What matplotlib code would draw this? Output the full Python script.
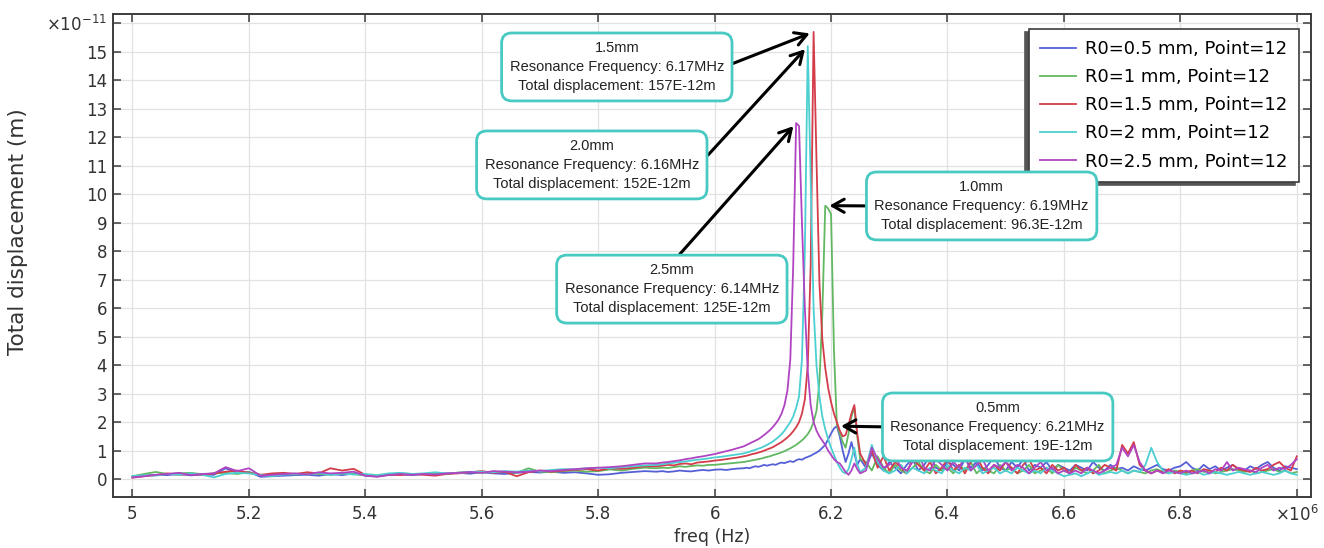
import numpy as np
import matplotlib
matplotlib.use("Agg")
import matplotlib.pyplot as plt
from matplotlib.ticker import FixedLocator, FixedFormatter

plt.rcParams['font.family'] = ['DejaVu Sans']
plt.rcParams['mathtext.fontset'] = 'dejavusans'

# ---------------- data (freq in MHz, displacement in 1e-11 m) ----------------
freq_coarse = np.round(np.arange(5.00, 5.881, 0.02), 3)   # 45
freq_mid = np.round(np.arange(5.90, 6.041, 0.01), 3)      # 15
freq_peak = np.round(np.arange(6.05, 6.2501, 0.005), 3)   # 41
freq_tail = np.round(np.arange(6.26, 7.001, 0.01), 3)     # 75
freq = np.concatenate([freq_coarse, freq_mid, freq_peak, freq_tail])

disp_r05 = [
    0.08, 0.12, 0.15, 0.14, 0.18, 0.13, 0.16, 0.15, 0.38, 0.22,
    0.25, 0.08, 0.10, 0.12, 0.14, 0.15, 0.12, 0.18, 0.14, 0.20,
    0.12, 0.10, 0.15, 0.17, 0.14, 0.18, 0.16, 0.20, 0.22, 0.19,
    0.24, 0.20, 0.18, 0.22, 0.25, 0.23, 0.26, 0.22, 0.24, 0.20,
    0.15, 0.17, 0.22, 0.25, 0.28,
    0.26, 0.28, 0.25, 0.27, 0.30, 0.28, 0.27, 0.30, 0.32, 0.30, 0.33, 0.34, 0.32, 0.35, 0.37,
    0.38, 0.40, 0.38, 0.42, 0.45, 0.43, 0.46, 0.50, 0.47, 0.50,
    0.52, 0.50, 0.55, 0.58, 0.56, 0.60, 0.63, 0.60, 0.66, 0.70,
    0.68, 0.74, 0.78, 0.82, 0.88, 0.93, 1.00, 1.10, 1.20, 1.40,
    1.60, 1.78, 1.86, 1.50, 1.00, 0.60, 0.90, 1.30, 0.90, 0.50,
    0.70,
    0.4, 0.9, 0.5, 0.3, 0.6,
    0.4, 0.2, 0.5, 0.7, 0.3, 0.5, 0.8, 0.4, 0.3, 0.6,
    0.5, 0.3, 0.7, 0.4, 0.6, 0.3, 0.5, 0.8, 0.4, 0.3,
    0.6, 0.4, 0.7, 0.3, 0.5, 0.4, 0.6, 0.3, 0.5, 0.4,
    0.3, 0.5, 0.4, 0.3, 0.6, 0.4, 0.3, 0.5, 0.35, 0.4,
    0.3, 0.45, 0.35, 0.3, 0.4, 0.5, 0.35, 0.3, 0.4, 0.45,
    0.6, 0.4, 0.3, 0.5, 0.35, 0.45, 0.3, 0.4, 0.5, 0.35,
    0.3, 0.45, 0.35, 0.5, 0.6, 0.4, 0.3, 0.45, 0.4, 0.35,
]

disp_r10 = [
    0.10, 0.18, 0.25, 0.18, 0.20, 0.22, 0.17, 0.20, 0.22, 0.18,
    0.24, 0.15, 0.13, 0.18, 0.16, 0.22, 0.18, 0.15, 0.20, 0.17,
    0.14, 0.12, 0.16, 0.20, 0.18, 0.17, 0.20, 0.18, 0.23, 0.25,
    0.22, 0.26, 0.24, 0.22, 0.38, 0.26, 0.24, 0.28, 0.30, 0.26,
    0.28, 0.34, 0.30, 0.36, 0.40,
    0.38, 0.40, 0.39, 0.42, 0.45, 0.43, 0.46, 0.48, 0.47, 0.50, 0.50, 0.52, 0.54, 0.56, 0.58,
    0.60, 0.62, 0.64, 0.66, 0.68, 0.70, 0.72, 0.75, 0.78, 0.80,
    0.84, 0.87, 0.90, 0.94, 0.98, 1.03, 1.08, 1.14, 1.20, 1.28,
    1.36, 1.46, 1.58, 1.75, 2.00, 2.40, 3.40, 5.80, 9.60, 9.50,
    9.30, 4.50, 1.90, 1.60, 1.30, 1.10, 1.60, 2.20, 2.50, 1.50,
    0.70,
    0.6, 0.3, 0.8, 0.4, 0.2,
    0.5, 0.3, 0.2, 0.4, 0.6, 0.3, 0.2, 0.5, 0.3, 0.4,
    0.2, 0.5, 0.3, 0.6, 0.2, 0.4, 0.3, 0.2, 0.5, 0.3,
    0.4, 0.2, 0.3, 0.5, 0.2, 0.3, 0.4, 0.2, 0.5, 0.3,
    0.2, 0.4, 0.3, 0.2, 0.3, 0.5, 0.2, 0.3, 0.4, 0.3,
    0.2, 0.3, 0.25, 0.2, 0.3, 0.35, 0.25, 0.2, 0.3, 0.25,
    0.2, 0.3, 0.35, 0.25, 0.3, 0.2, 0.25, 0.3, 0.35, 0.3,
    0.25, 0.3, 0.2, 0.25, 0.3, 0.35, 0.25, 0.3, 0.2, 0.25,
]

disp_r15 = [
    0.05, 0.10, 0.14, 0.20, 0.15, 0.18, 0.14, 0.20, 0.26, 0.30,
    0.22, 0.15, 0.20, 0.22, 0.18, 0.24, 0.20, 0.38, 0.30, 0.36,
    0.15, 0.10, 0.16, 0.14, 0.18, 0.15, 0.12, 0.18, 0.20, 0.24,
    0.28, 0.22, 0.25, 0.10, 0.24, 0.30, 0.26, 0.30, 0.32, 0.35,
    0.30, 0.38, 0.36, 0.40, 0.45,
    0.45, 0.47, 0.50, 0.48, 0.53, 0.55, 0.52, 0.58, 0.60, 0.62, 0.65, 0.67, 0.70, 0.73, 0.76,
    0.80, 0.82, 0.85, 0.88, 0.90, 0.93, 0.96, 1.00, 1.04, 1.08,
    1.12, 1.18, 1.24, 1.30, 1.38, 1.46, 1.56, 1.68, 1.82, 2.00,
    2.30, 2.80, 4.00, 7.50, 15.70, 11.20, 6.90, 4.90, 3.90, 3.20,
    2.70, 2.30, 2.00, 1.70, 1.50, 1.55, 1.90, 2.30, 2.60, 1.60,
    0.90,
    0.5, 1.0, 0.4, 0.8, 0.3,
    0.6, 0.4, 0.2, 0.7, 0.5, 0.3, 0.6, 0.2, 0.4, 0.7,
    0.3, 0.5, 0.2, 0.6, 0.8, 0.4, 0.2, 0.5, 0.3, 0.6,
    0.4, 0.2, 0.5, 0.7, 0.3, 0.4, 0.2, 0.5, 0.3, 0.4,
    0.2, 0.5, 0.3, 0.4, 0.2, 0.3, 0.5, 0.4, 0.3, 1.2,
    0.9, 1.3, 0.5, 0.3, 0.2, 0.3, 0.25, 0.35, 0.2, 0.3,
    0.25, 0.3, 0.2, 0.35, 0.3, 0.25, 0.4, 0.3, 0.5, 0.35,
    0.3, 0.25, 0.4, 0.3, 0.35, 0.5, 0.6, 0.4, 0.3, 0.8,
]

disp_r20 = [
    0.10, 0.14, 0.12, 0.18, 0.15, 0.20, 0.15, 0.06, 0.18, 0.22,
    0.20, 0.14, 0.10, 0.16, 0.18, 0.15, 0.22, 0.14, 0.20, 0.16,
    0.18, 0.14, 0.20, 0.22, 0.18, 0.20, 0.24, 0.20, 0.22, 0.25,
    0.26, 0.24, 0.28, 0.26, 0.30, 0.28, 0.32, 0.35, 0.34, 0.38,
    0.40, 0.38, 0.42, 0.45, 0.48,
    0.50, 0.52, 0.55, 0.57, 0.60, 0.62, 0.65, 0.68, 0.70, 0.73, 0.76, 0.78, 0.81, 0.84, 0.87,
    0.90, 0.93, 0.96, 1.00, 1.03, 1.07, 1.10, 1.15, 1.20, 1.26,
    1.32, 1.40, 1.48, 1.58, 1.70, 1.85, 2.00, 2.20, 2.50, 2.90,
    4.20, 8.00, 15.20, 10.50, 6.00, 4.00, 2.90, 2.20, 1.75, 1.40,
    1.10, 0.85, 0.60, 0.40, 0.25, 0.20, 0.35, 0.70, 1.10, 0.50,
    0.25,
    0.4, 1.2, 0.6, 0.3, 0.2,
    0.3, 0.5, 0.2, 0.4, 0.3, 0.2, 0.4, 0.3, 0.2, 0.5,
    0.3, 0.2, 0.4, 0.3, 0.5, 0.2, 0.3, 0.4, 0.2, 0.3,
    0.2, 0.4, 0.3, 0.2, 0.3, 0.2, 0.4, 0.3, 0.2, 0.1,
    0.15, 0.2, 0.1, 0.2, 0.3, 0.15, 0.2, 0.25, 0.2, 0.3,
    0.2, 0.3, 0.25, 0.5, 1.1, 0.6, 0.3, 0.2, 0.25, 0.2,
    0.15, 0.2, 0.25, 0.15, 0.2, 0.25, 0.2, 0.15, 0.2, 0.25,
    0.2, 0.15, 0.2, 0.25, 0.2, 0.15, 0.2, 0.3, 0.2, 0.15,
]

disp_r25 = [
    0.06, 0.10, 0.15, 0.18, 0.22, 0.14, 0.18, 0.20, 0.42, 0.28,
    0.38, 0.12, 0.15, 0.18, 0.20, 0.16, 0.24, 0.20, 0.22, 0.26,
    0.12, 0.08, 0.14, 0.18, 0.15, 0.18, 0.16, 0.20, 0.22, 0.25,
    0.22, 0.28, 0.26, 0.24, 0.26, 0.30, 0.28, 0.32, 0.35, 0.38,
    0.40, 0.42, 0.45, 0.50, 0.55,
    0.55, 0.58, 0.60, 0.63, 0.66, 0.70, 0.73, 0.77, 0.80, 0.84, 0.88, 0.93, 0.98, 1.03, 1.09,
    1.15, 1.20, 1.25, 1.30, 1.35, 1.40, 1.47, 1.55, 1.63, 1.72,
    1.83, 1.95, 2.10, 2.30, 2.60, 3.10, 4.20, 7.50, 12.50, 12.40,
    9.00, 6.00, 3.80, 2.60, 2.00, 1.70, 1.50, 1.35, 1.20, 1.00,
    0.85, 0.70, 0.60, 0.55, 0.40, 0.25, 0.15, 0.30, 0.55, 0.35,
    0.20,
    0.3, 1.1, 0.7, 0.4, 0.5,
    0.8, 0.4, 0.3, 0.6, 0.9, 0.4, 0.3, 0.7, 0.5, 0.3,
    0.6, 0.4, 0.8, 0.3, 0.5, 0.7, 0.3, 0.5, 0.4, 0.6,
    0.3, 0.5, 0.4, 0.2, 0.4, 0.6, 0.3, 0.4, 0.2, 0.3,
    0.2, 0.3, 0.2, 0.4, 0.3, 0.2, 0.3, 0.4, 0.5, 1.1,
    0.8, 1.2, 0.6, 0.3, 0.2, 0.3, 0.2, 0.3, 0.25, 0.2,
    0.3, 0.2, 0.25, 0.3, 0.2, 0.35, 0.3, 0.6, 0.3, 0.4,
    0.35, 0.3, 0.25, 0.4, 0.5, 0.3, 0.4, 0.35, 0.5, 0.7,
]

series = [disp_r05, disp_r10, disp_r15, disp_r20, disp_r25]
labels = ['R0=0.5 mm, Point=12', 'R0=1 mm, Point=12', 'R0=1.5 mm, Point=12',
          'R0=2 mm, Point=12', 'R0=2.5 mm, Point=12']
colors = ['#5560d6', '#62b862', '#d43c4a', '#4ccfd0', '#b044c2']

x_ticks = [5.0, 5.2, 5.4, 5.6, 5.8, 6.0, 6.2, 6.4, 6.6, 6.8, 7.0]
x_ticklabels = ['5', '5.2', '5.4', '5.6', '5.8', '6', '6.2', '6.4', '6.6', '6.8', r'$\times10^{6}$']
y_ticks = list(range(0, 17))
y_ticklabels = [str(v) for v in range(0, 16)] + [r'$\times10^{-11}$']

# annotation info: (series index, text, box centre (MHz, 1e-11 m), arrow start on box)
annotations = [
    (2, '1.5mm\nResonance Frequency: 6.17MHz\nTotal displacement: 157E-12m', (5.832, 14.47), (1.0, 0.5)),
    (3, '2.0mm\nResonance Frequency: 6.16MHz\nTotal displacement: 152E-12m', (5.789, 11.03), (1.0, 0.5)),
    (4, '2.5mm\nResonance Frequency: 6.14MHz\nTotal displacement: 125E-12m', (5.9265, 6.67), (0.5, 1.0)),
    (1, '1.0mm\nResonance Frequency: 6.19MHz\nTotal displacement: 96.3E-12m', (6.4587, 9.59), (0.0, 0.5)),
    (0, '0.5mm\nResonance Frequency: 6.21MHz\nTotal displacement: 19E-12m', (6.4862, 1.83), (0.0, 0.5)),
]

# ---------------- figure ----------------
fig = plt.figure(figsize=(13.24, 5.48), dpi=100)
ax = fig.add_axes([0.0851, 0.093, 0.9049, 0.8815])

for ys, lab, col in zip(series, labels, colors):
    ax.plot(freq, ys, color=col, lw=1.3, label=lab)

ax.set_xlim(4.966, 7.024)
ax.set_ylim(-0.63, 16.33)

ax.xaxis.set_major_locator(FixedLocator(x_ticks))
ax.xaxis.set_major_formatter(FixedFormatter(x_ticklabels))
ax.yaxis.set_major_locator(FixedLocator(y_ticks))
ax.yaxis.set_major_formatter(FixedFormatter(y_ticklabels))

ax.grid(True, color='#e2e2e2', lw=0.9)
ax.set_axisbelow(True)
for sp in ax.spines.values():
    sp.set_color('#3c3c3c')
    sp.set_linewidth(1.4)
ax.tick_params(axis='both', which='major', direction='in', length=6, width=1.1,
               color='#3c3c3c', top=True, right=True, labelsize=12, labelcolor='#333333')
ax.tick_params(axis='x', pad=6)
ax.tick_params(axis='y', pad=4)

ax.set_xlabel('freq (Hz)', fontsize=12.5, color='#333333', labelpad=2)
ax.set_ylabel('Total displacement (m)', fontsize=15.5, color='#333333')
ax.yaxis.set_label_coords(-0.0707, 0.55)

leg = ax.legend(loc='upper right', bbox_to_anchor=(0.990, 0.969), borderaxespad=0,
                fontsize=13, frameon=True, fancybox=False, handlelength=2.0,
                labelspacing=0.56, borderpad=0.62, handletextpad=0.5,
                shadow={'ox': -2.5, 'oy': -2.5, 'color': '#555555', 'alpha': 1.0})
leg.get_frame().set_edgecolor('#3c3c3c')
leg.get_frame().set_linewidth(1.2)
leg.set_zorder(5)

for idx, txt, centre, rel in annotations:
    ys = np.asarray(series[idx])
    k = int(np.argmax(ys))
    ax.annotate(txt, xy=(freq[k], ys[k]), xytext=centre, textcoords='data',
                ha='center', va='center', multialignment='center',
                fontsize=10.5, family=['Liberation Sans', 'DejaVu Sans'], color='#222222',
                linespacing=1.45, zorder=10,
                bbox=dict(boxstyle='round,pad=0.55,rounding_size=0.7', fc='white',
                          ec='#48c9c1', lw=2.0),
                arrowprops=dict(arrowstyle='->,head_length=0.8,head_width=0.45', color='black',
                                lw=2.2, relpos=rel, shrinkA=0, shrinkB=3))

fig.savefig('out.png', dpi=100)
